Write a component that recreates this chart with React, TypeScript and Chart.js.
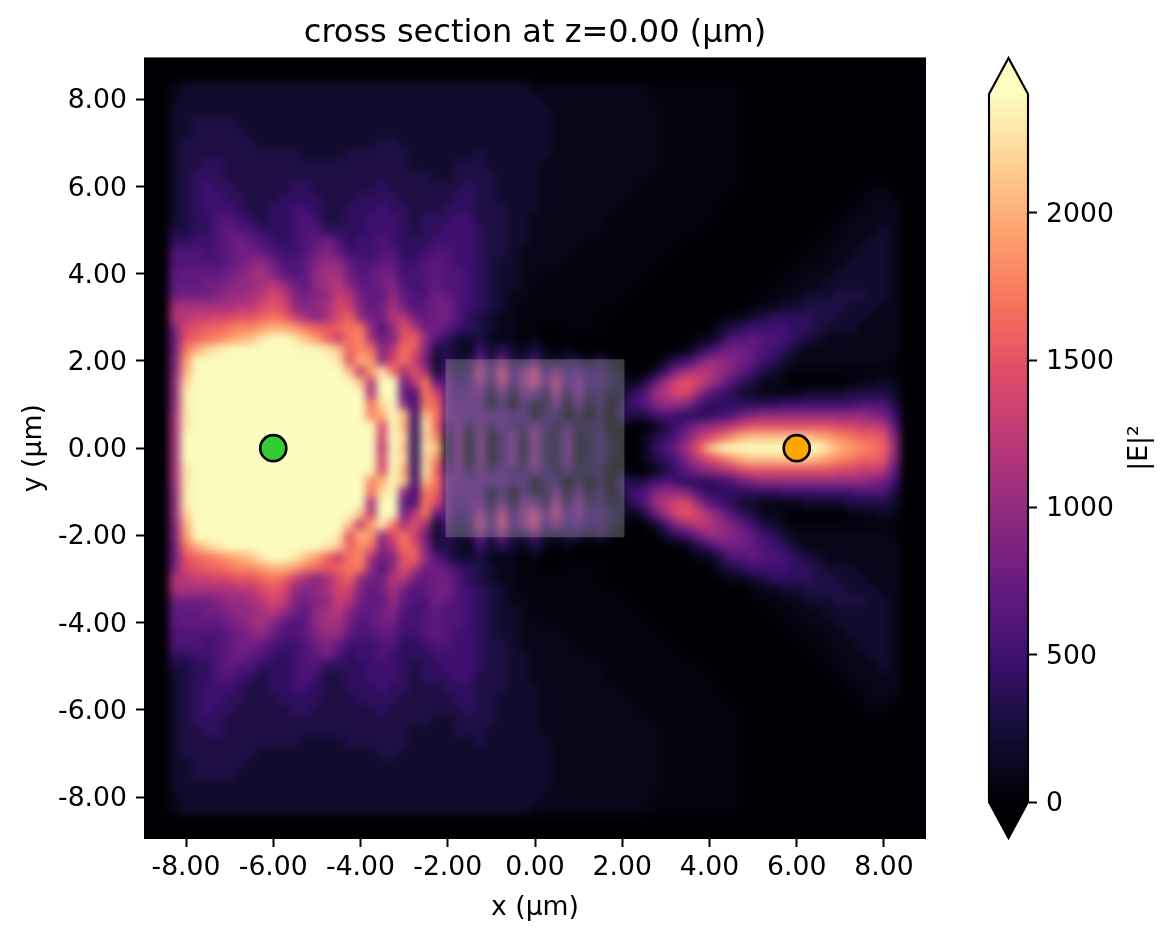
import React, { useEffect, useRef } from "react";
import { Chart, registerables } from "chart.js";

Chart.register(...registerables);

// |E|^2 in hundreds, one base-25 digit per cell (o = 2400 and above; "." = 50).
// Rows run from y = 8.25 down to y = 0, cells from x = -8.25 to 8.5, 0.25 um apart.
// The field is mirror-symmetric about y = 0.
const FIELD_ROWS = [
  "1222 2222 2222 2222 2222 2222 2222 2222 2111 1111 1111 .... .... 0000 0000 0000 0000",
  "1222 2222 2222 2222 2222 2222 2222 2222 2211 1111 1111 .... .... 0000 0000 0000 0000",
  "2222 2222 2222 2222 2222 2222 2222 2222 2221 1111 1111 1... .... 0000 0000 0000 0000",
  "2233 3322 2222 2222 2222 2222 2222 2222 2221 1111 1111 1... .... 0000 0000 0000 0000",
  "2233 3332 2222 2222 2222 2222 2222 2222 2221 1111 1111 1... .... 0000 0000 0000 0000",
  "2333 3333 2222 2222 2223 3222 2222 2222 2221 1111 1111 1... .... 0000 0000 0000 0000",
  "2333 3333 3333 2222 3333 3322 2222 3222 2221 1111 1111 1... .... 0000 0000 0000 0000",
  "2334 4333 3333 3333 3333 3322 2233 3222 2211 1111 1111 1... .... 0000 0000 0000 0000",
  "2344 4333 3333 3333 3333 3333 2233 3322 2211 1111 1111 .... .... 0000 0000 0000 0000",
  "2345 4433 3334 4333 3334 3333 3334 3322 2211 1111 111. .... .... 0000 0000 0000 ..00",
  "2345 5443 3344 4433 3444 4333 3344 3322 2211 1111 11.. .... ...0 0000 0000 000. 11.0",
  "2345 5543 3445 5433 4445 4433 3444 3332 2211 1111 1... .... ..00 0000 0000 00.. 1110",
  "2344 6654 3445 6533 4455 5434 4455 3332 2111 1111 .... .... ..00 0000 0000 0.11 1110",
  "3344 6766 4445 6644 4455 5434 4555 4332 2111 1111 .... .... .000 0000 0000 ..11 1210",
  "4455 6787 6545 6786 4556 5444 5555 4332 2111 11.. .... ...0 0000 0000 000. .111 2210",
  "6665 6788 7655 6897 5556 6445 6655 4332 1111 1... .... ..00 0000 0000 00.. 1112 2210",
  "6666 6789 a866 79aa 7667 7556 7655 4322 1111 .... .... .000 0000 0000 0... 1122 2210",
  "7777 789a b976 7abb 8678 8566 7665 4322 11.. .... .... 0000 0000 0000 ..11 1222 2210",
  "7778 89aa bca8 7abc 9778 9656 7665 4322 1... .... ...0 0000 0000 000. .111 2222 2210",
  "8888 9aab ced9 89ad c877 a766 8765 4321 1... .... ..00 0000 0000 00.. 1122 2333 2210",
  "bbbb bbcc efea 9abe d978 b867 8865 4321 .... .... .000 0000 0000 0.11 2233 3322 2110",
  "ccdd eeff ghgd b9be ga88 cc87 8864 3211 .... ...0 0000 0000 0001 1234 4443 3222 1110",
  "9efg ghii jkkj hgfg hha6 afc8 8754 3211 ..00 .... 0000 0000 0023 4555 5443 2221 1110",
  "8fgh ijkl noon ljgd hib8 9fga 6422 3111 0100 0000 0000 0000 1136 6766 5432 1111 1110",
  "8hkm nooo oooo oonl gih9 chf9 3321 5242 1310 1000 0000 0001 3578 8765 4211 1111 1110",
  "9joo oooo oooo ooon fkja ehd8 2423 8383 3622 3313 1000 0245 8aa9 8754 2111 1111 11.0",
  "9koo oooo oooo oooo ldjn hbfb 2634 c5d5 8d58 5645 2100 259b cca9 7532 1... .... ...0",
  "amoo oooo oooo oooo olco o8ch 7745 a4c4 9d6c 5845 3213 7bef eb96 4311 .000 00.1 1210",
  "anoo oooo oooo oooo oobo o76h e756 7272 773a 3834 1246 acee a754 2211 1122 2233 3320",
  "anoo oooo oooo oooo oohm oa5h g766 6150 5227 1614 0356 9aa9 6444 4444 5555 5556 6630",
  "bnoo oooo oooo oooo ooik ol5l h776 6665 5044 0303 0433 5654 4456 89aa aaaa aaaa 9850",
  "bnoo oooo oooo oooo oooe ok4n g573 7364 4742 5233 0100 1357 9abc efff ffff feed dc70",
  "booo oooo oooo oooo oooe om4m i381 8148 2932 7124 1001 3469 cegi klll lllk jihg gf90",
  "booo oooo oooo oooo oooc ol4n l271 8147 1832 7124 2001 468b fkno oooo oooo mkji hga0",
];
const X_START = -8.25;
const Y_START = 8.25;
const CELL = 0.25;
const V_MAX = 2403;

const AXIS_TICKS = [-8, -6, -4, -2, 0, 2, 4, 6, 8];
const BAR_TICKS = [0, 500, 1000, 1500, 2000];
const SOURCE_X = [-6];
const SOURCE_Y = [0];
const MONITOR_X = [6];
const MONITOR_Y = [0];
const BOX_X = [-2.05, 2.05, 2.05, -2.05];
const BOX_Y = [2.04, 2.04, -2.04, -2.04];

const MAGMA = [
  [0, 0, 4], [20, 14, 54], [59, 15, 112], [100, 26, 128], [140, 41, 129], [183, 55, 121],
  [222, 73, 104], [247, 112, 92], [254, 159, 109], [254, 207, 146], [252, 253, 191],
];
function magma(t: number) {
  const p = Math.max(0, Math.min(1, t)) * (MAGMA.length - 1);
  const i = Math.min(MAGMA.length - 2, Math.floor(p));
  const f = p - i;
  const c = MAGMA[i].map((a, k) => Math.round(a + (MAGMA[i + 1][k] - a) * f));
  return `rgb(${c[0]},${c[1]},${c[2]})`;
}

const FONT = "'DejaVu Sans'";
const TICK_SIZE = 26.67;
const PX_PER_UM = 780 / 17.88;
const CELL_RADIUS = ((CELL * PX_PER_UM + 0.6) / Math.SQRT2);

function fieldPoints() {
  const pts: { x: number; y: number; v: number }[] = [];
  FIELD_ROWS.forEach((row, j) => {
    const y = Y_START - j * CELL;
    row.replace(/ /g, "").split("").forEach((ch, i) => {
      const v = ch === "." ? 50 : parseInt(ch, 25) * 100;
      const x = X_START + i * CELL;
      pts.push({ x, y, v });
      if (y > 0) pts.push({ x, y: -y, v });
    });
  });
  return pts;
}

const plotPlugin = {
  id: "plotBackground",
  beforeDatasetsDraw(chart: any) {
    const { ctx, chartArea: a } = chart;
    ctx.save();
    ctx.fillStyle = "#000004";
    ctx.fillRect(a.left - 1, a.top - 1, a.width + 2, a.height + 2);
    ctx.restore();
  },
  afterDatasetDraw(chart: any, args: any) {
    if (args.index !== 0) return;
    const { ctx, chartArea: a } = chart;
    ctx.save();
    ctx.beginPath();
    ctx.rect(a.left, a.top, a.width, a.height);
    ctx.clip();
    ctx.filter = "blur(4.5px)";
    ctx.drawImage(chart.canvas, a.left, a.top, a.width, a.height, a.left, a.top, a.width, a.height);
    ctx.restore();
  },
};

const barPlugin = {
  id: "barExtensions",
  afterDatasetsDraw(chart: any) {
    const { ctx, chartArea: a } = chart;
    const y = chart.scales.y;
    const top = y.getPixelForValue(V_MAX);
    const bottom = y.getPixelForValue(0);
    const mid = (a.left + a.right) / 2;
    const cap = 36;
    ctx.save();
    ctx.fillStyle = magma(1);
    ctx.beginPath();
    ctx.moveTo(a.left, top + 1);
    ctx.lineTo(a.left, top);
    ctx.lineTo(mid, top - cap);
    ctx.lineTo(a.right, top);
    ctx.lineTo(a.right, top + 1);
    ctx.closePath();
    ctx.fill();
    ctx.fillStyle = magma(0);
    ctx.beginPath();
    ctx.moveTo(a.left, bottom - 1);
    ctx.lineTo(a.left, bottom);
    ctx.lineTo(mid, bottom + cap);
    ctx.lineTo(a.right, bottom);
    ctx.lineTo(a.right, bottom - 1);
    ctx.closePath();
    ctx.fill();
    ctx.strokeStyle = "#000";
    ctx.lineWidth = 2.13;
    ctx.lineJoin = "miter";
    ctx.beginPath();
    ctx.moveTo(a.left, top);
    ctx.lineTo(mid, top - cap);
    ctx.lineTo(a.right, top);
    ctx.lineTo(a.right, bottom);
    ctx.lineTo(mid, bottom + cap);
    ctx.lineTo(a.left, bottom);
    ctx.closePath();
    ctx.stroke();
    ctx.fillStyle = "#000";
    ctx.font = `${TICK_SIZE}px ${FONT}`;
    ctx.textAlign = "center";
    ctx.textBaseline = "middle";
    ctx.translate(1140, (top + bottom) / 2);
    ctx.rotate(-Math.PI / 2);
    ctx.fillText("|E|²", 0, 0);
    ctx.restore();
  },
};

function axisTicks(values: number[]) {
  return (scale: any) => {
    scale.ticks = values.map((value) => ({ value }));
  };
}

export default function App() {
  const mainRef = useRef<HTMLCanvasElement>(null);
  const barRef = useRef<HTMLCanvasElement>(null);

  useEffect(() => {
    const pts = fieldPoints();
    const main = new Chart(mainRef.current as HTMLCanvasElement, {
      type: "scatter",
      plugins: [plotPlugin],
      data: {
        datasets: [
          {
            label: "|E|²",
            data: pts.map((p) => ({ x: p.x, y: p.y })),
            order: 3,
            pointStyle: "rect",
            pointRadius: CELL_RADIUS,
            pointBorderWidth: 0,
            pointBackgroundColor: pts.map((p) => magma(p.v / V_MAX)),
          },
          {
            label: "structure",
            data: BOX_X.map((x, i) => ({ x, y: BOX_Y[i] })),
            order: 2,
            showLine: true,
            fill: "shape",
            borderWidth: 0,
            pointRadius: 0,
            backgroundColor: "rgba(170,170,170,0.35)",
          },
          {
            label: "source",
            data: SOURCE_X.map((x, i) => ({ x, y: SOURCE_Y[i] })),
            order: 1,
            pointRadius: 13,
            pointBorderWidth: 2.67,
            pointBorderColor: "#000",
            pointBackgroundColor: "#32cd32",
          },
          {
            label: "monitor",
            data: MONITOR_X.map((x, i) => ({ x, y: MONITOR_Y[i] })),
            order: 0,
            pointRadius: 13,
            pointBorderWidth: 2.67,
            pointBorderColor: "#000",
            pointBackgroundColor: "#ffa500",
          },
        ],
      } as any,
      options: {
        responsive: false,
        animation: false,
        devicePixelRatio: 1,
        events: [],
        layout: { padding: { left: 0, right: 246, top: 0, bottom: 0 } },
        plugins: {
          legend: { display: false },
          tooltip: { enabled: false },
          title: {
            display: true,
            text: "cross section at z=0.00 (µm)",
            color: "#000",
            fullSize: false,
            font: { family: FONT, size: 32, weight: "normal", lineHeight: 1.2 },
            padding: { top: 14, bottom: 6 },
          },
        },
        scales: {
          x: {
            type: "linear",
            min: -8.94,
            max: 8.94,
            afterBuildTicks: axisTicks(AXIS_TICKS),
            afterFit: (s: any) => { s.height = 102; },
            grid: { drawOnChartArea: false, tickLength: 9, tickWidth: 2, tickColor: "#000" },
            border: { display: false },
            ticks: {
              color: "#000",
              maxRotation: 0,
              autoSkip: false,
              padding: 5,
              font: { family: FONT, size: TICK_SIZE },
              callback: (v: any) => Number(v).toFixed(2),
            },
            title: {
              display: true,
              text: "x (µm)",
              color: "#000",
              font: { family: FONT, size: TICK_SIZE },
              padding: { top: 0, bottom: 16 },
            },
          },
          y: {
            type: "linear",
            min: -8.94,
            max: 8.94,
            afterBuildTicks: axisTicks(AXIS_TICKS),
            afterFit: (s: any) => { s.width = 145; },
            grid: { drawOnChartArea: false, tickLength: 9, tickWidth: 2, tickColor: "#000" },
            border: { display: false },
            ticks: {
              color: "#000",
              autoSkip: false,
              padding: 9,
              labelOffset: 2,
              font: { family: FONT, size: TICK_SIZE },
              callback: (v: any) => Number(v).toFixed(2),
            },
            title: {
              display: true,
              text: "y (µm)",
              color: "#000",
              font: { family: FONT, size: TICK_SIZE },
              padding: { top: 18, bottom: 0 },
            },
          },
        },
      } as any,
    });

    const bar = new Chart(barRef.current as HTMLCanvasElement, {
      type: "bar",
      plugins: [barPlugin],
      data: {
        labels: ["|E|²"],
        datasets: [
          {
            label: "|E|²",
            data: [[0, V_MAX]],
            barPercentage: 1,
            categoryPercentage: 1,
            borderWidth: 0,
            backgroundColor: (c: any) => {
              const { ctx, chartArea: a } = c.chart;
              if (!a) return "#000";
              const g = ctx.createLinearGradient(0, a.bottom, 0, a.top);
              for (let i = 0; i <= 20; i++) g.addColorStop(i / 20, magma(i / 20));
              return g;
            },
          },
        ],
      } as any,
      options: {
        responsive: false,
        animation: false,
        devicePixelRatio: 1,
        events: [],
        layout: { padding: { left: 989, right: 0, top: 94, bottom: 138 } },
        plugins: { legend: { display: false }, tooltip: { enabled: false } },
        scales: {
          x: { display: false },
          y: {
            position: "right",
            min: 0,
            max: V_MAX,
            afterBuildTicks: axisTicks(BAR_TICKS),
            afterFit: (s: any) => { s.width = 143; },
            grid: { drawOnChartArea: false, tickLength: 9, tickWidth: 2, tickColor: "#000" },
            border: { color: "#000", width: 2 },
            ticks: {
              color: "#000",
              autoSkip: false,
              padding: 9,
              labelOffset: 2,
              font: { family: FONT, size: TICK_SIZE },
              callback: (v: any) => String(v),
            },
          },
        },
      } as any,
    });

    return () => {
      main.destroy();
      bar.destroy();
    };
  }, []);

  const style: React.CSSProperties = { position: "absolute", left: 0, top: 0 };
  return (
    <div style={{ position: "absolute", left: 0, top: 0, width: 1171, height: 940, background: "#fff", overflow: "hidden" }}>
      <canvas ref={mainRef} width={1171} height={940} style={style} />
      <canvas ref={barRef} width={1171} height={940} style={style} />
    </div>
  );
}
